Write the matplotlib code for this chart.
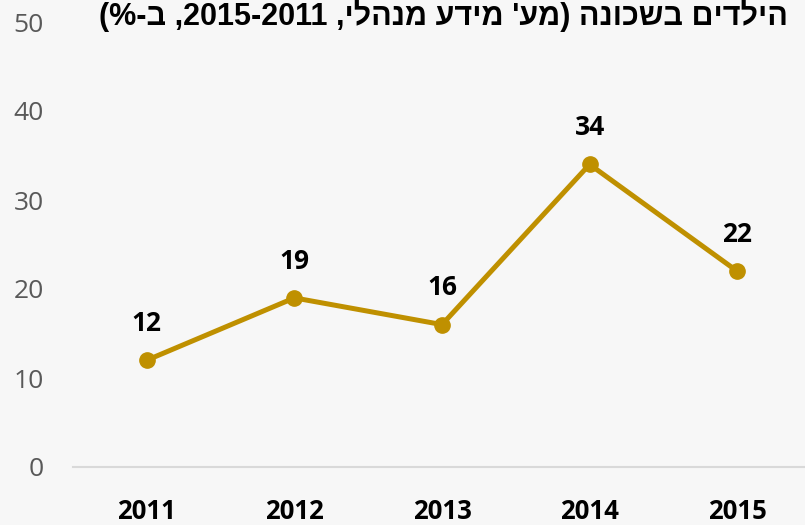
import matplotlib
matplotlib.use("Agg")
import matplotlib.pyplot as plt

# Data
years = ["2011", "2012", "2013", "2014", "2015"]
values = [12, 19, 16, 34, 22]
y_ticks = [0, 10, 20, 30, 40, 50]

# Title in logical (reading) order; matplotlib has no bidi so flip it for display
title_logical = "הילדים בשכונה (מע' מידע מנהלי, 2011-2015, ב-%)"


def to_visual(text):
    # simple RTL reordering: reverse everything, keep digit runs LTR, mirror brackets
    rev = text[::-1]
    out, run = [], ""
    for ch in rev:
        if ch.isdigit():
            run += ch
        else:
            if run:
                out.append(run[::-1])
                run = ""
            out.append({"(": ")", ")": "("}.get(ch, ch))
    if run:
        out.append(run[::-1])
    return "".join(out)


LINE_COLOR = "#BF9000"
BG = "#F7F7F7"
FONT = ["Open Sans", "DejaVu Sans"]

W, H = 805, 525
fig = plt.figure(figsize=(W / 100, H / 100), dpi=100, facecolor=BG)
# plot area: x 73..811 px (slightly cropped on the right), y 22..467 px
ax = fig.add_axes([73 / W, 1 - 467 / H, (811 - 73) / W, (467 - 22) / H])
ax.set_facecolor(BG)

x = list(range(len(years)))
ax.plot(x, values, color=LINE_COLOR, linewidth=3.6, marker="o", markersize=11,
        solid_capstyle="round", solid_joinstyle="round", zorder=3)

for xi, v in zip(x, values):
    ax.annotate(str(v), (xi, v), xytext=(0, 26.5), textcoords="offset points",
                ha="center", va="center", fontsize=19, fontweight="bold",
                color="black", family=FONT)

ax.set_ylim(0, 50)
ax.set_xlim(-0.5, 4.5)
ax.set_yticks(y_ticks)
ax.set_xticks(x)
ax.set_xticklabels(years, fontsize=18.5, fontweight="bold", family=FONT)
for lab in ax.get_yticklabels():
    lab.set_fontsize(19)
    lab.set_color("#595959")
    lab.set_family(FONT)
ax.tick_params(axis="both", length=0)
ax.tick_params(axis="x", pad=22)
ax.tick_params(axis="y", pad=21)

for side in ["left", "right", "top"]:
    ax.spines[side].set_visible(False)
ax.spines["bottom"].set_color("#D9D9D9")
ax.spines["bottom"].set_linewidth(1.5)

fig.text(443 / W, 1 - 16 / H, to_visual(title_logical), ha="center", va="center",
         fontsize=22, fontweight="bold", family=["Liberation Sans", "DejaVu Sans"])

fig.savefig("out.png", dpi=100, facecolor=BG)
